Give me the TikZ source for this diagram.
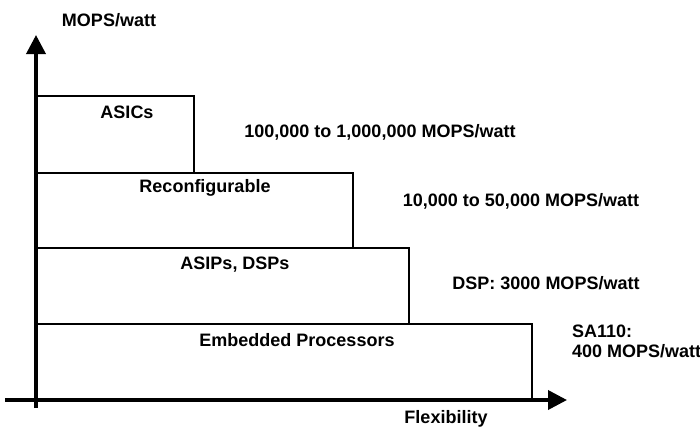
\documentclass[tikz,border=0pt]{standalone}
\usepackage{fontspec}
\setmainfont{Liberation Sans}
\usetikzlibrary{arrows.meta}
\begin{document}
\begin{tikzpicture}[x=1pt,y=-1pt,
  lbl/.style={font=\bfseries\fontsize{18}{20}\selectfont, inner sep=0pt},
  tier/.style={draw=black, line width=1.4pt},
  axis/.style={line width=3.6pt, -{Triangle[length=19pt,width=19pt]}}]
\useasboundingbox (0,0) rectangle (700,428);
% tiers, bottom to top
\draw[tier] (36,400) rectangle (532,324);
\draw[tier] (36,324) rectangle (409,248);
\draw[tier] (36,248) rectangle (353,173);
\draw[tier] (36,173) rectangle (194,96);
% axes
\coordinate (o) at (36,408);
\coordinate (ytip) at (36,35);
\coordinate (xo) at (5,400);
\coordinate (xtip) at (567,400);
\draw[axis] (o) -- (ytip);
\draw[axis] (xo) -- (xtip);
% labels
\node[lbl] (ylab) at (109,20) {MOPS/watt};
\node[lbl] (xlab) at (446,419) {Flexibility};
\node[lbl] (asic) at (127,112) {ASICs};
\node[lbl] (reconf) at (205,188) {Reconfigurable};
\node[lbl] (asip) at (235,265) {ASIPs, DSPs};
\node[lbl] (emb) at (297,340) {Embedded Processors};
\node[lbl] (r1) at (380,132) {100,000 to 1,000,000 MOPS/watt};
\node[lbl] (r2) at (521,201) {10,000 to 50,000 MOPS/watt};
\node[lbl] (r3) at (546,283) {DSP: 3000 MOPS/watt};
\node[lbl, anchor=west, align=left] (r4) at (572,341) {SA110:\\400 MOPS/watt};
\end{tikzpicture}
\end{document}
